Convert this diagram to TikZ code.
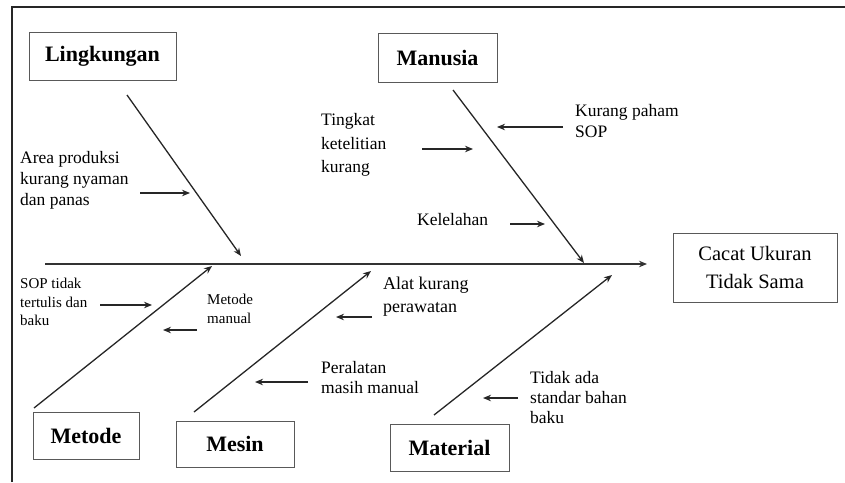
\documentclass[tikz,border=0pt]{standalone}
\usepackage{fontspec}
\setmainfont{Liberation Serif}
\usepackage{tikz}
\usetikzlibrary{arrows.meta,calc,positioning}

\begin{document}
\begin{tikzpicture}[
  x=1pt,y=-1pt,
  >={Stealth[length=8pt,width=6.5pt]},
  frame/.style={draw=black!85,line width=1.3pt},
  spine/.style={->,draw=black!80,line width=1.6pt},
  bone/.style={->,draw=black!85,line width=1.3pt},
  line/.style={->,draw=black!85,line width=1.3pt},
  cause/.style={draw=black!65,line width=1pt,font=\fontsize{22}{24}\selectfont\bfseries,
                inner sep=0pt},
  effect/.style={draw=black!65,line width=1pt,font=\fontsize{20.5}{28}\selectfont,
                 align=center,inner sep=0pt,minimum width=164pt,minimum height=69pt},
  lbl/.style={font=\fontsize{17.5}{21}\selectfont,align=left,inner sep=0pt,anchor=west},
  lblsmall/.style={font=\fontsize{15}{18.5}\selectfont,align=left,inner sep=0pt,anchor=west}
]
\useasboundingbox (0,0) rectangle (845,482);
\draw[frame] (12,482) -- (12,7) -- (845,7);

\node[cause,minimum width=147pt,minimum height=48pt] (lingkungan) at (102.5,56) {Lingkungan};
\node[cause,minimum width=119pt,minimum height=49pt] (manusia) at (437.5,57.5) {Manusia};
\node[cause,minimum width=106pt,minimum height=47pt] (metode) at (86,435.5) {Metode};
\node[cause,minimum width=118pt,minimum height=46pt] (mesin) at (235,444) {Mesin};
\node[cause,minimum width=119pt,minimum height=47pt] (material) at (449.5,447.5) {Material};
\node[effect] (cacat) at (755,267.5) {Cacat Ukuran\\Tidak Sama};

\node[lbl] (area) at (20,180) {Area produksi\\kurang nyaman\\dan panas};
\node[lbl] (paham) at (575,121) {Kurang paham\\SOP};
\node[lbl,font=\fontsize{17.5}{23.5}\selectfont] (teliti) at (321,145)
  {Tingkat\\ketelitian\\kurang};
\node[lbl] (lelah) at (417,220) {Kelelahan};
\node[lblsmall] (soptidak) at (20,302) {SOP tidak\\tertulis dan\\baku};
\node[lblsmall] (manual) at (207,309) {Metode\\manual};
\node[lbl,font=\fontsize{18}{23}\selectfont] (rawat) at (383,297)
  {Alat kurang\\perawatan};
\node[lbl,font=\fontsize{17.5}{20}\selectfont] (peralatan) at (321,378)
  {Peralatan\\masih manual};
\node[lbl,font=\fontsize{17.5}{20}\selectfont] (standar) at (530,398)
  {Tidak ada\\standar bahan\\baku};

\coordinate (spinel) at (45,264);
\coordinate (spiner) at (647,264);
\coordinate (lingtop) at (127,95);
\coordinate (lingtip) at (241,256);
\coordinate (mantop) at (453,90);
\coordinate (mantip) at (584,263);
\coordinate (metbot) at (34,408);
\coordinate (mettip) at (212,266);
\coordinate (mesbot) at (194,412);
\coordinate (mestip) at (371,271);
\coordinate (matbot) at (434,415);
\coordinate (mattip) at (612,275);

\coordinate (areaa) at (140,193);  \coordinate (areab) at (190,193);
\coordinate (pahama) at (563,127); \coordinate (pahamb) at (497,127);
\coordinate (telitia) at (422,149); \coordinate (telitib) at (473,149);
\coordinate (lelaha) at (510,224); \coordinate (lelahb) at (545,224);
\coordinate (sopa) at (100,305);   \coordinate (sopb) at (152,305);
\coordinate (manuala) at (197,330); \coordinate (manualb) at (163,330);
\coordinate (rawata) at (372,317); \coordinate (rawatb) at (336,317);
\coordinate (alata) at (308,382);  \coordinate (alatb) at (255,382);
\coordinate (standara) at (518,398); \coordinate (standarb) at (483,398);

\draw[spine] (spinel) -- (spiner);
\draw[bone] (lingtop) -- (lingtip);
\draw[bone] (mantop) -- (mantip);
\draw[bone] (metbot) -- (mettip);
\draw[bone] (mesbot) -- (mestip);
\draw[bone] (matbot) -- (mattip);

\draw[line] (areaa) -- (areab);
\draw[line] (pahama) -- (pahamb);
\draw[line] (telitia) -- (telitib);
\draw[line] (lelaha) -- (lelahb);
\draw[line] (sopa) -- (sopb);
\draw[line] (manuala) -- (manualb);
\draw[line] (rawata) -- (rawatb);
\draw[line] (alata) -- (alatb);
\draw[line] (standara) -- (standarb);
\end{tikzpicture}
\end{document}
